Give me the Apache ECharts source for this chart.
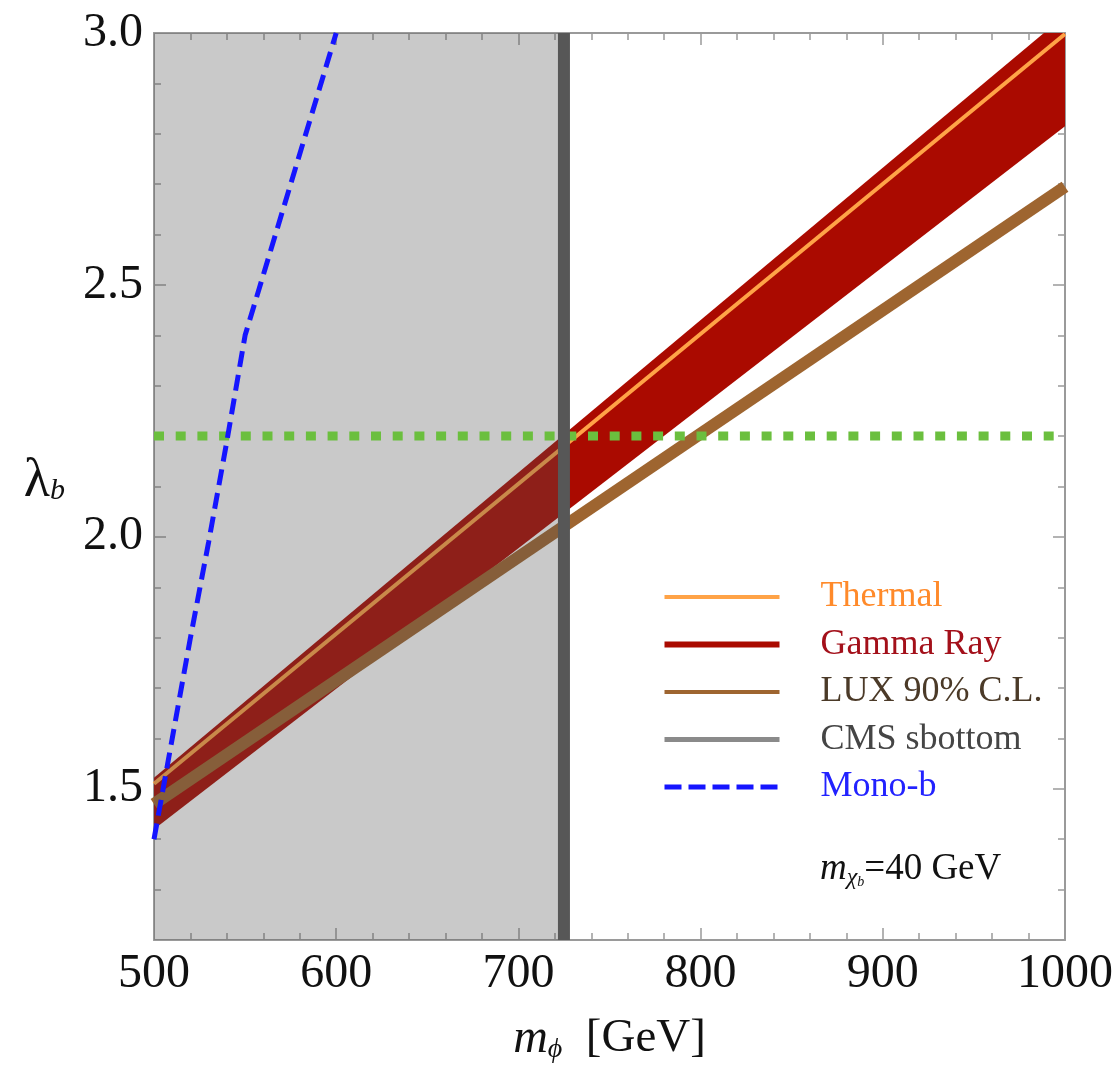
<!DOCTYPE html>
<html><head><meta charset="utf-8">
<script src="https://cdn.jsdelivr.net/npm/echarts@6/dist/echarts.min.js"></script>
<style>html,body{margin:0;padding:0;background:#fff}#c{width:1119px;height:1069px}</style>
</head><body><div id="c"></div>
<script>
// ---- data ----
var xRange = [500, 1000];
var yRange = [1.2, 3.0];
var xMajorTicks = [500, 600, 700, 800, 900, 1000];
var yMajorTicks = [1.5, 2.0, 2.5, 3.0];
var gammaX = [500, 750, 1000];
var gammaLow = [1.42, 2.117, 2.815];
var gammaHigh = [1.522, 2.279, 3.035];
var thermalX = [500, 1000];
var thermalY = [1.51, 2.998];
var luxX = [500, 1000];
var luxY = [1.47, 2.695];
var monoX = [500, 510, 520, 530, 540, 550, 575, 600];
var monoY = [1.40, 1.60, 1.80, 1.99, 2.19, 2.40, 2.70, 3.00];
var cmsX = 725;
var greenY = 2.2;
var greenX = [500, 1000];

function pairs(xs, ys) { return xs.map(function (x, i) { return [x, ys[i]]; }); }

var SERIF = "'Liberation Serif', 'DejaVu Serif', serif";
var AX = '#9a9a9a';

function xAxisDef(pos, labels) {
  return {
    type: 'value', position: pos, min: xRange[0], max: xRange[1], interval: 100,
    axisLine: { show: true, onZero: false, lineStyle: { color: AX, width: 2 } },
    axisTick: { show: true, inside: true, length: 12, lineStyle: { color: AX, width: 1.5 } },
    minorTick: { show: true, splitNumber: 5, length: 7, lineStyle: { color: AX, width: 1.5 } },
    splitLine: { show: false }, minorSplitLine: { show: false },
    axisLabel: {
      show: labels, margin: 10, fontSize: 48, fontFamily: SERIF, color: '#111',
      formatter: function (v) {
        for (var i = 0; i < xMajorTicks.length; i++) if (Math.abs(v - xMajorTicks[i]) < 1e-6) return String(xMajorTicks[i]);
        return '';
      }
    }
  };
}
function yAxisMinor(pos, labels) {
  return {
    type: 'value', position: pos, min: yRange[0], max: yRange[1], interval: 0.1,
    axisLine: { show: true, onZero: false, lineStyle: { color: AX, width: 2 } },
    axisTick: { show: true, inside: true, length: 7, lineStyle: { color: AX, width: 1.5 } },
    splitLine: { show: false },
    axisLabel: {
      show: labels, margin: 11, fontSize: 48, fontFamily: SERIF, color: '#111',
      formatter: function (v) {
        for (var i = 0; i < yMajorTicks.length; i++) if (Math.abs(v - yMajorTicks[i]) < 1e-6) return yMajorTicks[i].toFixed(1);
        return '';
      }
    }
  };
}
function yAxisMajor(pos) {
  return {
    type: 'value', position: pos, min: yRange[0], max: yRange[1],
    axisLine: { show: false },
    axisTick: { show: true, inside: true, length: 12, customValues: yMajorTicks, lineStyle: { color: AX, width: 1.5 } },
    splitLine: { show: false },
    axisLabel: { show: false }
  };
}

var xa0 = xAxisDef('bottom', true);
xa0.name = '{m|m}{s|ϕ}{n|  [GeV]}';
xa0.nameLocation = 'middle';
xa0.nameGap = 74;
xa0.nameTextStyle = {
  fontFamily: SERIF, color: '#111',
  rich: {
    m: { fontSize: 48, fontStyle: 'italic', fontFamily: SERIF, lineHeight: 50, color: '#111' },
    s: { fontSize: 28, fontStyle: 'italic', fontFamily: SERIF, lineHeight: 28, verticalAlign: 'bottom', color: '#111' },
    n: { fontSize: 47, fontFamily: SERIF, lineHeight: 50, color: '#111' }
  }
};
var ya0 = yAxisMinor('left', true);
ya0.name = '{l|λ}{s|b}';
ya0.nameLocation = 'middle';
ya0.nameRotate = 0;
ya0.nameGap = 89;
ya0.nameTextStyle = {
  fontFamily: SERIF, color: '#111', padding: [0, 0, 10, 0],
  rich: {
    l: { fontSize: 54, fontFamily: SERIF, lineHeight: 50, color: '#111' },
    s: { fontSize: 30, fontStyle: 'italic', fontFamily: SERIF, lineHeight: 22, verticalAlign: 'bottom', color: '#111' }
  }
};

var option = {
  animation: false,
  backgroundColor: '#ffffff',
  grid: { left: 154, top: 33, right: 54, bottom: 124, containLabel: false },
  xAxis: [xa0, xAxisDef('top', false)],
  yAxis: [ya0, yAxisMajor('left'), yAxisMinor('right', false), yAxisMajor('right')],
  legend: {
    orient: 'vertical', left: 662, top: 577, padding: 0,
    itemWidth: 115, itemHeight: 6, itemGap: 7.5, selectedMode: false,
    textStyle: { fontFamily: SERIF, fontSize: 36, lineHeight: 40, padding: [0, 0, 0, 36] },
    data: [
      { name: 'Thermal', textStyle: { color: '#ff8a2a' }, itemStyle: { opacity: 0 }, lineStyle: { width: 4, color: '#ffa347' } },
      { name: 'Gamma Ray', icon: 'rect', textStyle: { color: '#a3101a' }, itemStyle: { color: '#aa0a00' } },
      { name: 'LUX 90% C.L.', textStyle: { color: '#4b3a28' }, itemStyle: { opacity: 0 }, lineStyle: { width: 4, color: '#9e6530' } },
      { name: 'CMS sbottom', textStyle: { color: '#454545' }, itemStyle: { opacity: 0 }, lineStyle: { width: 5, color: '#8a8a8a' } },
      { name: 'Mono-b', textStyle: { color: '#2222ff' }, itemStyle: { opacity: 0 }, lineStyle: { width: 5, color: '#1515ff', type: [17, 7] } }
    ]
  },
  graphic: [{
    type: 'text', left: 820, top: 851, silent: true,
    style: {
      text: '{m|m}{c|χ}{b|b}{n|=40 GeV}',
      rich: {
        m: { fontSize: 37, fontStyle: 'italic', fontFamily: SERIF, lineHeight: 40, fill: '#111' },
        c: { fontSize: 24, fontStyle: 'italic', fontFamily: SERIF, lineHeight: 24, verticalAlign: 'bottom', fill: '#111' },
        b: { fontSize: 14, fontStyle: 'italic', fontFamily: SERIF, lineHeight: 16, verticalAlign: 'bottom', fill: '#111' },
        n: { fontSize: 37, fontFamily: SERIF, lineHeight: 40, fill: '#111' }
      }
    }
  }],
  series: [
    {
      name: 'Gamma Ray', type: 'custom', z: 2, clip: true, silent: true,
      itemStyle: { color: '#aa0a00' },
      data: [[gammaX[0], gammaLow[0]]],
      encode: { x: 0, y: 1 },
      renderItem: function (params, api) {
        var pts = [];
        for (var i = 0; i < gammaX.length; i++) pts.push(api.coord([gammaX[i], gammaHigh[i]]));
        for (var j = gammaX.length - 1; j >= 0; j--) pts.push(api.coord([gammaX[j], gammaLow[j]]));
        return { type: 'polygon', shape: { points: pts }, style: { fill: '#aa0a00' } };
      }
    },
    {
      name: 'Thermal', type: 'line', z: 3, symbol: 'none', silent: true,
      data: pairs(thermalX, thermalY),
      lineStyle: { color: '#ffa347', width: 4 }, itemStyle: { color: '#ffa347' }
    },
    {
      name: 'LUX 90% C.L.', type: 'line', z: 3, symbol: 'none', silent: true,
      data: pairs(luxX, luxY),
      lineStyle: { color: '#9e6530', width: 12 }, itemStyle: { color: '#9e6530' }
    },
    {
      name: 'excluded', type: 'custom', z: 4, silent: true, clip: true,
      data: [[xRange[0], yRange[0]]],
      encode: { x: 0, y: 1 },
      renderItem: function (params, api) {
        var p0 = api.coord([xRange[0], yRange[1]]);
        var p1 = api.coord([cmsX, yRange[0]]);
        return { type: 'rect', shape: { x: p0[0], y: p0[1], width: p1[0] - p0[0], height: p1[1] - p0[1] },
                 style: { fill: 'rgba(82,82,82,0.31)' } };
      }
    },
    {
      name: 'green', type: 'line', z: 5, symbol: 'none', silent: true,
      data: pairs(greenX, [greenY, greenY]),
      lineStyle: { color: '#6bbf3e', width: 9, type: [10, 11.7], cap: 'butt' }
    },
    {
      name: 'CMS sbottom', type: 'line', z: 6, symbol: 'none', silent: true,
      data: pairs([cmsX, cmsX], yRange),
      lineStyle: { color: '#575757', width: 12 }, itemStyle: { color: '#575757' }
    },
    {
      name: 'Mono-b', type: 'line', z: 7, symbol: 'none', silent: true,
      data: pairs(monoX, monoY),
      lineStyle: { color: '#1515ff', width: 5, type: [16, 8] }, itemStyle: { color: '#1515ff' }
    }
  ]
};
var chart = echarts.init(document.getElementById('c'), null, { renderer: 'canvas' });
chart.setOption(option);
</script>
</body></html>
